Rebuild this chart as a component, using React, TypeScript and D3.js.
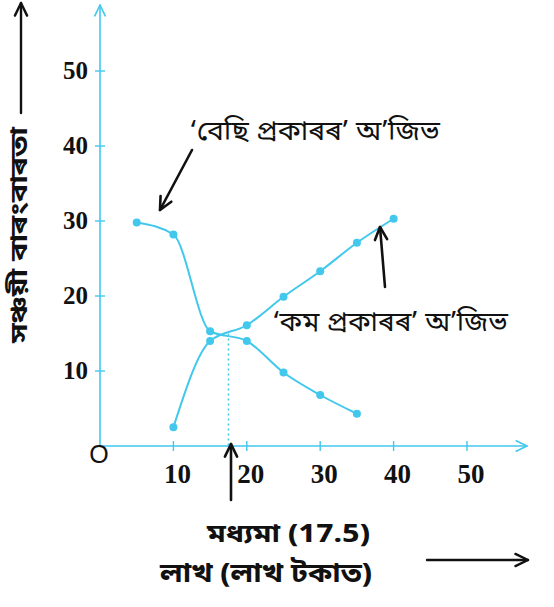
import React from "react";
import * as d3 from "d3";

const moreX = [5, 10, 15, 20, 25, 30, 35];
const moreY = [29.8, 28.2, 15.3, 14.0, 9.8, 6.8, 4.3];
const lessX = [10, 15, 20, 25, 30, 35, 40];
const lessY = [2.5, 14.0, 16.1, 19.9, 23.3, 27.1, 30.3];
const xTicks = [10, 20, 30, 40, 50];
const yTicks = [10, 20, 30, 40, 50];
const median = 17.5;
const medianFreq = 15;

const yTitle = "সঞ্চয়ী বাৰংবাৰতা";
const xTitle = "লাখ (লাখ টকাত)";
const medianLabel = "মধ্যমা (17.5)";
const moreLabel = "‘বেছি প্ৰকাৰৰ’ অ’জিভ";
const lessLabel = "‘কম প্ৰকাৰৰ’ অ’জিভ";

const W = 554;
const H = 607;
const CYAN = "#42c8ec";
const BN = "'Noto Sans Bengali','Lohit Bengali','Noto Serif Bengali','Noto Sans',sans-serif";
const SERIF = "'Liberation Serif','Times New Roman',serif";

export default function App() {
  const x = d3.scaleLinear().domain([0, 50]).range([100, 467]);
  const y = d3.scaleLinear().domain([0, 50]).range([446, 71]);
  const line = d3
    .line<[number, number]>()
    .x((d) => x(d[0]))
    .y((d) => y(d[1]))
    .curve(d3.curveMonotoneX);
  const more: [number, number][] = moreX.map((v, i) => [v, moreY[i]]);
  const less: [number, number][] = lessX.map((v, i) => [v, lessY[i]]);
  const x0 = x(0);
  const y0 = y(0);

  const arrow = (x1: number, y1: number, x2: number, y2: number, color: string, sw: number, size: number) => {
    const a = Math.atan2(y2 - y1, x2 - x1);
    const s = size;
    const p1 = [x2 - s * Math.cos(a - 0.45), y2 - s * Math.sin(a - 0.45)];
    const p2 = [x2 - s * Math.cos(a + 0.45), y2 - s * Math.sin(a + 0.45)];
    return (
      <g stroke={color} strokeWidth={sw} fill="none" strokeLinecap="round" strokeLinejoin="round">
        <line x1={x1} y1={y1} x2={x2} y2={y2} />
        <polyline points={`${p1[0]},${p1[1]} ${x2},${y2} ${p2[0]},${p2[1]}`} />
      </g>
    );
  };

  return (
    <svg width={W} height={H} style={{ position: "absolute", left: 0, top: 0, background: "#fff" }}>
      <rect width={W} height={H} fill="#fff" />
      {arrow(x0, y0, x0, 5, CYAN, 1.6, 12)}
      {arrow(x0, y0, 527, y0, CYAN, 1.6, 12)}
      {yTicks.map((t) => (
        <line key={"yt" + t} x1={x0 - 5} x2={x0 + 5} y1={y(t)} y2={y(t)} stroke={CYAN} strokeWidth={1.4} />
      ))}
      {xTicks.map((t) => (
        <line key={"xt" + t} x1={x(t)} x2={x(t)} y1={y0 - 5} y2={y0 + 5} stroke={CYAN} strokeWidth={1.4} />
      ))}
      {yTicks.map((t) => (
        <text key={"yl" + t} x={88} y={y(t)} dy="0.33em" textAnchor="end" fontFamily={SERIF} fontWeight="bold" fontSize={25} fill="#111">
          {t}
        </text>
      ))}
      {xTicks.map((t) => (
        <text key={"xl" + t} x={x(t) + 4} y={483} textAnchor="middle" fontFamily={SERIF} fontWeight="bold" fontSize={27} fill="#111">
          {t}
        </text>
      ))}
      <text x={99} y={463} textAnchor="middle" fontFamily="'Liberation Sans',Arial,sans-serif" fontSize={25} fill="#111">
        O
      </text>
      <line x1={x(median)} x2={x(median)} y1={y(medianFreq)} y2={y0} stroke={CYAN} strokeWidth={1.5} strokeDasharray="2,3" />
      <path d={line(more) || ""} fill="none" stroke={CYAN} strokeWidth={2} />
      <path d={line(less) || ""} fill="none" stroke={CYAN} strokeWidth={2} />
      {more.map((d, i) => (
        <circle key={"m" + i} cx={x(d[0])} cy={y(d[1])} r={4} fill={CYAN} />
      ))}
      {less.map((d, i) => (
        <circle key={"l" + i} cx={x(d[0])} cy={y(d[1])} r={4} fill={CYAN} />
      ))}
      <text x={190} y={140} fontFamily={BN} fontSize={27} fill="#111" textLength={250} lengthAdjust="spacingAndGlyphs">
        {moreLabel}
      </text>
      {arrow(192, 150, 160, 210, "#111", 2.6, 14)}
      <text x={273} y={331} fontFamily={BN} fontSize={27} fill="#111" textLength={235} lengthAdjust="spacingAndGlyphs">
        {lessLabel}
      </text>
      {arrow(385, 287, 380, 227, "#111", 2.6, 14)}
      {arrow(231, 500, 231, 444, "#111", 2.6, 14)}
      <text x={207} y={542} fontFamily={BN} fontWeight="bold" fontSize={25} fill="#111" textLength={163} lengthAdjust="spacingAndGlyphs">
        {medianLabel}
      </text>
      <text x={160} y={582} fontFamily={BN} fontWeight="bold" fontSize={27} fill="#111" textLength={212} lengthAdjust="spacingAndGlyphs">
        {xTitle}
      </text>
      {arrow(427, 560, 528, 560, "#111", 2.4, 14)}
      <text
        transform={`translate(19,235) rotate(-90)`}
        x={-108}
        dy="0.35em"
        fontFamily={BN}
        fontWeight="bold"
        fontSize={24}
        fill="#111"
        textLength={216}
        lengthAdjust="spacingAndGlyphs"
      >
        {yTitle}
      </text>
      {arrow(21, 113, 21, 3, "#111", 2.4, 14)}
    </svg>
  );
}
